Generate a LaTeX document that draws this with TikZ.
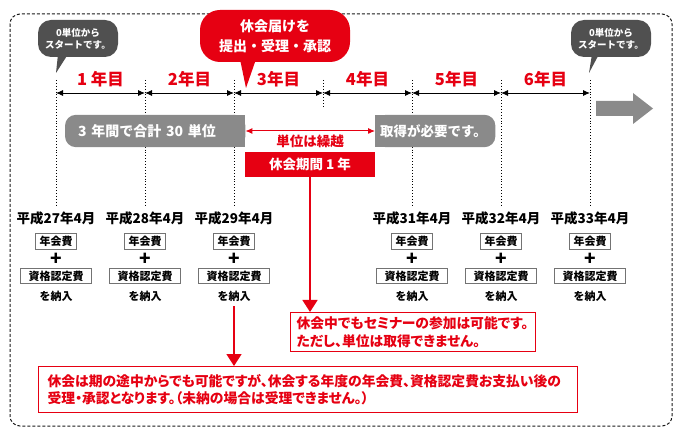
\documentclass[tikz,border=0pt]{standalone}
\usepackage{fontspec}
\setmainfont{Noto Sans CJK JP}
\usepackage{xcolor}
\usepackage{tikz}
\usetikzlibrary{calc, arrows.meta, positioning, backgrounds}

\definecolor{kred}{HTML}{E60012}
\definecolor{bargray}{HTML}{8A8A8A}
\definecolor{bubblegray}{HTML}{505050}

\tikzset{
  yearlabel/.style={text=kred, font=\fontsize{16.5}{16.5}\selectfont\bfseries, inner sep=0pt},
  guide/.style={dotted, line width=0.9pt},
  span/.style={<->, line width=0.9pt},
  bubble/.style={fill=bubblegray, text=white, rounded corners=13pt, minimum width=80pt, minimum height=37pt,
    align=center, font=\fontsize{9.5}{12}\selectfont\bfseries, inner sep=0pt},
  callout/.style={fill=kred, text=white, rounded corners=20pt, minimum width=150pt, minimum height=52pt,
    align=center, font=\fontsize{14}{20}\selectfont\bfseries, inner sep=0pt},
  bar/.style={text=white, font=\fontsize{14}{14}\selectfont\bfseries, minimum height=32pt, inner ysep=0pt, anchor=west, align=left},
  redbox/.style={fill=kred, text=white, font=\fontsize{13.5}{13.5}\selectfont\bfseries, minimum width=130pt, minimum height=25pt, inner sep=0pt},
  datelabel/.style={font=\fontsize{13.5}{13.5}\selectfont\bfseries, inner sep=0pt},
  feebox/.style={draw=black!55, line width=0.8pt, fill=white, font=\fontsize{11}{11}\selectfont\bfseries, inner sep=0pt, minimum height=15.5pt},
  plus/.style={font=\fontsize{19}{19}\selectfont\bfseries, inner sep=0pt},
  paylabel/.style={font=\fontsize{11}{11}\selectfont\bfseries, inner sep=0pt},
  notebox/.style={draw=kred, line width=1.2pt, fill=white, text=kred, align=left, anchor=north west,
    font=\fontsize{13.8}{17.5}\selectfont\bfseries\addfontfeature{RawFeature=+palt}, inner ysep=0pt},
  downarrow/.style={draw=kred, line width=1.6pt, -{Triangle[length=12pt, width=15pt]}}
}

\begin{document}
\begin{tikzpicture}[>={Latex[length=7pt, width=6pt]}, x=1pt, y=-1pt]
  \useasboundingbox (0,0) rectangle (680,438);

  % 1. Rahmen
  \draw[dash pattern=on 3pt off 2pt, draw=black!90, line width=1pt, rounded corners=10pt] (10,14) rectangle (672,426);

  % 2. Jahresleiste
  \foreach \i in {0,...,6} {
    \coordinate (t\i) at ({56+89*\i},93);
  }
  \foreach \i/\j/\lab in {0/1/{1 年目},1/2/2年目,2/3/3年目,3/4/4年目,4/5/5年目,5/6/6年目} {
    \draw[span] (t\i) -- (t\j) node[yearlabel, midway, above=5pt] (y\j) {\lab};
  }
  \fill[bargray] (596,101) -- (633,101) -- (633,93) -- (653,108.5) -- (633,124) -- (633,116) -- (596,116) -- cycle;

  % 3. Sprechblasen
  \node[bubble] (zero1) at (78,38.5) {0単位から\\スタートです。};
  \coordinate (tip1) at (56,73);
  \fill[bubblegray] ($(zero1.south)+(-20,-3)$) -- (tip1) -- ($(zero1.south)+(-10,-3)$) -- cycle;

  \node[bubble] (zero2) at (611,38.5) {0単位から\\スタートです。};
  \coordinate (tip2) at (589,73);
  \fill[bubblegray] ($(zero2.south)+(-19,-3)$) -- (tip2) -- ($(zero2.south)+(-12,-3)$) -- cycle;

  \node[callout] (apply) at (275,36) {休会届けを\\提出・受理・承認};
  \coordinate (tip3) at (246,88);
  \fill[kred] ($(apply.south)+(-35,-3)$) -- (tip3) -- ($(apply.south)+(-19,-3)$) -- cycle;

  % 4. Einheiten und Pause
  \node[bar, text width=154pt, inner xsep=13pt] (sum) at (65,131) {3 年間で合計 30 単位};
  \node[bar, text width=110pt, inner xsep=5pt, font=\fontsize{13.5}{13.5}\selectfont\bfseries] (need) at (375,131) {取得が必要です。};
  \draw[kred, line width=1pt, <->] (sum.east) -- (need.west)
    node[midway, below=3pt, text=kred, inner sep=0pt, font=\fontsize{13.5}{13.5}\selectfont\bfseries] (carry) {単位は繰越};
  \node[redbox] (kyu) at (310,164.5) {休会期間 1 年};

  % 5. Zahlungen
  \foreach \i/\yr in {0/27,1/28,2/29,4/31,5/32,6/33} {
    \node[datelabel] (d\i) at ($(t\i)+(0,125)$) {平成\yr 年4月};
    \node[feebox, minimum width=41pt] (f\i) at ($(t\i)+(0,148.5)$) {年会費};
    \node[plus] (p\i) at ($(t\i)+(0,166)$) {+};
    \node[feebox, minimum width=71pt] (q\i) at ($(t\i)+(0,183)$) {資格認定費};
    \node[paylabel] (n\i) at ($(t\i)+(0,203)$) {を納入};
  }

  % 6. Hinweise
  \node[notebox, text width=233pt, inner xsep=6pt, minimum height=39pt] (note1) at (290,312)
    {休会中でもセミナーの参加は可能です。\\ただし、単位は取得できません。};
  \node[notebox, text width=521pt, inner xsep=9pt, minimum height=46pt] (note2) at (38,366)
    {休会は期の途中からでも可能ですが、休会する年度の年会費、資格認定費お支払い後の\\受理・承認となります。（未納の場合は受理できません。）};
  \draw[downarrow] (kyu.south) -- (kyu.south |- note1.north);
  \draw[downarrow, shorten <=5pt] (n2.south) -- (n2.south |- note2.north);

  % 7. Hilfslinien und Balken im Hintergrund
  \begin{scope}[on background layer]
    \foreach \i in {0,1,2,4,5,6} {
      \draw[guide] ($(t\i)+(0,-13)$) -- ($(t\i)+(0,112)$);
    }
    \draw[guide] ($(t3)+(0,-13)$) -- ($(t3)+(0,15)$);
    \fill[bargray, rounded corners=11pt] (sum.north west) rectangle (sum.south east);
    \fill[bargray] (sum.north) rectangle (sum.south east);
    \fill[bargray, rounded corners=11pt] (need.north west) rectangle (need.south east);
    \fill[bargray] (need.north west) rectangle (need.south);
  \end{scope}
\end{tikzpicture}
\end{document}
